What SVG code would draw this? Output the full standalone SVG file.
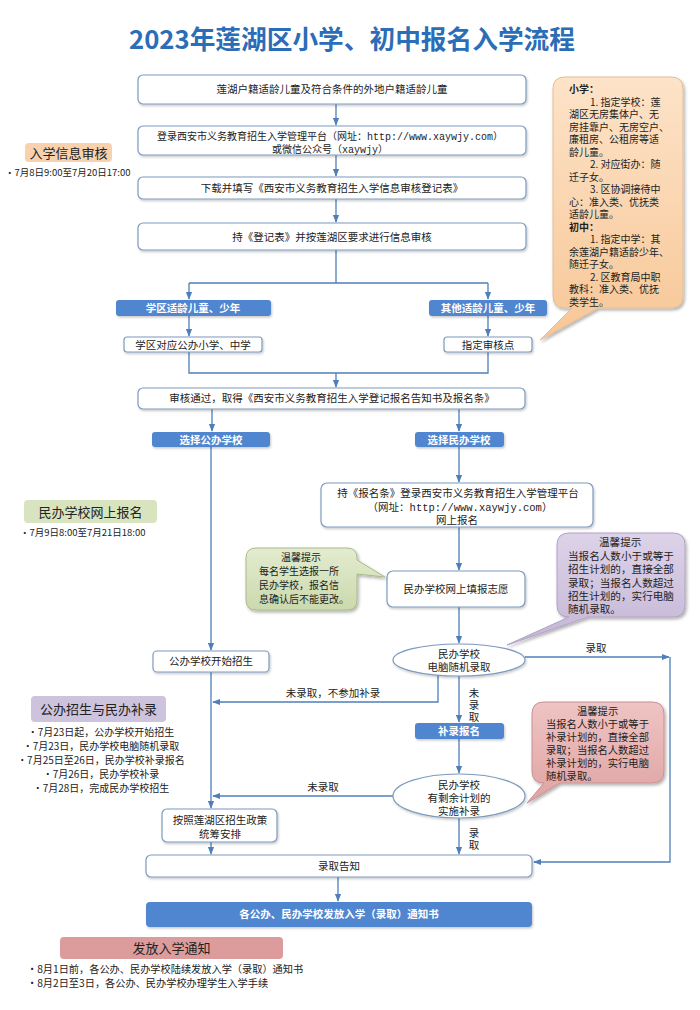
<svg xmlns="http://www.w3.org/2000/svg" width="700" height="1010" viewBox="0 0 700 1010">
<defs>
<style>
.t{font-family:"Noto Sans CJK SC","Liberation Sans",sans-serif;font-size:10.5px;fill:#222;text-anchor:middle}
.m{font-family:"Liberation Mono",monospace}
.l{text-anchor:start}
.tw{fill:#fff;font-weight:bold}
.v{writing-mode:vertical-rl;letter-spacing:1.5px}
.box{fill:#fff;stroke:#7d9bbf;stroke-width:1.2;filter:url(#sh)}
.bb{fill:#4f86cf;filter:url(#sh)}
.c{fill:none;stroke:#4f7fb8;stroke-width:1.3}
.a{marker-end:url(#ah)}
.lab{font-family:"Noto Sans CJK SC","Liberation Sans",sans-serif;font-size:13px;fill:#222;text-anchor:middle}
.d{font-family:"Noto Sans CJK SC","Liberation Sans",sans-serif;font-size:9.5px;fill:#222}
.note{stroke-width:1;filter:url(#sh2)}
</style>
<filter id="sh" x="-10%" y="-20%" width="120%" height="150%"><feDropShadow dx="1" dy="1.5" stdDeviation="0.8" flood-color="#000" flood-opacity="0.22"/></filter>
<filter id="sh2" x="-20%" y="-20%" width="140%" height="140%"><feDropShadow dx="1.5" dy="2" stdDeviation="1.5" flood-color="#000" flood-opacity="0.3"/></filter>
<marker id="ah" viewBox="0 0 10 10" refX="9" refY="5" markerWidth="8" markerHeight="8" markerUnits="userSpaceOnUse" orient="auto"><path d="M0,1 L10,5 L0,9 z" fill="#4f7fb8"/></marker>
<linearGradient id="go" x1="0" y1="0" x2="0" y2="1"><stop offset="0" stop-color="#fde3c8"/><stop offset="1" stop-color="#f7c797"/></linearGradient>
<linearGradient id="gg" x1="0" y1="0" x2="0" y2="1"><stop offset="0" stop-color="#e3ecd0"/><stop offset="1" stop-color="#cbd9ac"/></linearGradient>
<linearGradient id="gp" x1="0" y1="0" x2="0" y2="1"><stop offset="0" stop-color="#ddd3e8"/><stop offset="1" stop-color="#c4b6d6"/></linearGradient>
<linearGradient id="gk" x1="0" y1="0" x2="0" y2="1"><stop offset="0" stop-color="#efc4c4"/><stop offset="1" stop-color="#dfa3a3"/></linearGradient>
</defs>
<rect width="700" height="1010" fill="#fff"/>
<text x="352" y="49" style="font-family:'Noto Sans CJK SC',sans-serif;font-size:25.7px;font-weight:bold;fill:#2b6db7;text-anchor:middle">2023年莲湖区小学、初中报名入学流程</text>

<g id="connectors">
<path class="c a" d="M336,104 V125"/>
<path class="c a" d="M336,155 V176"/>
<path class="c a" d="M336,199 V222"/>
<path class="c" d="M336,250 V283 M189,283 H488"/>
<path class="c a" d="M189,283 V299"/>
<path class="c a" d="M488,283 V299"/>
<path class="c a" d="M189,316 V336"/>
<path class="c a" d="M488,316 V336"/>
<path class="c" d="M189,352 V373 H488 V352"/>
<path class="c a" d="M336,373 V387"/>
<path class="c a" d="M212,409 V431"/>
<path class="c a" d="M459,409 V431"/>
<path class="c a" d="M211,447 V650"/>
<path class="c a" d="M459,447 V482"/>
<path class="c a" d="M459,527 V570"/>
<path class="c a" d="M459,607 V643"/>
<path class="c a" d="M525,657 H669"/>
<path class="c a" d="M670,657 V862 H534"/>
<path class="c a" d="M438,675 V702 H213"/>
<path class="c a" d="M459,676 V722"/>
<path class="c a" d="M459,739 V773"/>
<path class="c a" d="M393,796 H213"/>
<path class="c a" d="M211,672 V808"/>
<path class="c a" d="M211,842 V854"/>
<path class="c a" d="M459,818 V854"/>
<path class="c a" d="M338,877 V901"/>
<text class="t" x="596" y="652">录取</text>
<text class="t" x="333" y="697">未录取，不参加补录</text>
<text class="t" x="323" y="791">未录取</text>
<text class="t v" x="474" y="706">未录取</text>
<text class="t v" x="474" y="840">录取</text>
</g>

<g id="n1"><rect class="box" x="138" y="75" width="388" height="29" rx="5"/><text class="t" x="332" y="93">莲湖户籍适龄儿童及符合条件的外地户籍适龄儿童</text></g>
<g id="n2"><rect class="box" x="138" y="126" width="388" height="29" rx="5"/><text class="t" style="font-size:10px"><tspan x="330" y="140">登录西安市义务教育招生入学管理平台（网址：<tspan class="m">http://www.xaywjy.com</tspan>）</tspan><tspan x="330" y="153">或微信公众号（<tspan class="m">xaywjy</tspan>）</tspan></text></g>
<g id="n3"><rect class="box" x="138" y="177" width="388" height="22" rx="5"/><text class="t" x="332" y="192">下载并填写《西安市义务教育招生入学信息审核登记表》</text></g>
<g id="n4"><rect class="box" x="138" y="223" width="388" height="27" rx="5"/><text class="t" x="332" y="241">持《登记表》并按莲湖区要求进行信息审核</text></g>
<g id="n5"><rect class="bb" x="116" y="300" width="155" height="16" rx="3"/><text class="t tw" x="193" y="312">学区适龄儿童、少年</text></g>
<g id="n6"><rect class="bb" x="429" y="300" width="118" height="16" rx="3"/><text class="t tw" x="488" y="312">其他适龄儿童、少年</text></g>
<g id="n7"><rect class="box" x="124" y="337" width="138" height="15" rx="3"/><text class="t" x="193" y="348.5">学区对应公办小学、中学</text></g>
<g id="n8"><rect class="box" x="444" y="337" width="88" height="15" rx="3"/><text class="t" x="488" y="348.5">指定审核点</text></g>
<g id="n9"><rect class="box" x="138" y="388" width="387" height="21" rx="5"/><text class="t" x="332" y="402">审核通过，取得《西安市义务教育招生入学登记报名告知书及报名条》</text></g>
<g id="n10"><rect class="bb" x="152" y="432" width="118" height="15" rx="3"/><text class="t tw" x="211" y="443.5">选择公办学校</text></g>
<g id="n11"><rect class="bb" x="415" y="432" width="89" height="15" rx="3"/><text class="t tw" x="459" y="443.5">选择民办学校</text></g>
<g id="n12"><rect class="box" x="321" y="483" width="272" height="44" rx="6"/><text class="t"><tspan x="458" y="497">持《报名条》登录西安市义务教育招生入学管理平台</tspan><tspan x="460" y="511">（网址：<tspan class="m">http://www.xaywjy.com</tspan>）</tspan><tspan x="457" y="524">网上报名</tspan></text></g>
<g id="n13"><rect class="box" x="387" y="571" width="138" height="36" rx="6"/><text class="t" x="456" y="593">民办学校网上填报志愿</text></g>
<g id="n14"><rect class="box" x="153" y="651" width="116" height="21" rx="4"/><text class="t" x="211" y="665">公办学校开始招生</text></g>
<g id="n15"><ellipse cx="459" cy="660" rx="66" ry="16" fill="#fff" stroke="#7d9bbf" stroke-width="1.2" filter="url(#sh)"/><text class="t"><tspan x="459" y="658">民办学校</tspan><tspan x="459" y="671">电脑随机录取</tspan></text></g>
<g id="n16"><rect class="bb" x="415" y="723" width="89" height="16" rx="3"/><text class="t tw" x="459" y="735">补录报名</text></g>
<g id="n17"><ellipse cx="459" cy="796" rx="66" ry="22" fill="#fff" stroke="#7d9bbf" stroke-width="1.2" filter="url(#sh)"/><text class="t"><tspan x="459" y="789">民办学校</tspan><tspan x="459" y="802">有剩余计划的</tspan><tspan x="459" y="815">实施补录</tspan></text></g>
<g id="n18"><rect class="box" x="162" y="809" width="115" height="33" rx="5"/><text class="t"><tspan x="220" y="824">按照莲湖区招生政策</tspan><tspan x="220" y="838">统筹安排</tspan></text></g>
<g id="n19"><rect class="box" x="146" y="855" width="386" height="22" rx="5"/><text class="t" x="339" y="870">录取告知</text></g>
<g id="n20"><rect class="bb" x="146" y="902" width="386" height="25" rx="4"/><text class="t tw" x="339" y="918">各公办、民办学校发放入学（录取）通知书</text></g>

<g id="note-orange">
<path class="note" fill="url(#go)" stroke="#e3bd95" d="M565,77 H671 Q683,77 683,89 V296 Q683,308 671,308 H598 L540,340 L572,308 H565 Q553,308 553,296 V89 Q553,77 565,77 Z"/>
<text class="t l" style="font-size:10px">
<tspan x="569" y="93" font-weight="bold">小学：</tspan>
<tspan x="590" y="105.5">1. 指定学校：莲</tspan>
<tspan x="569" y="118">湖区无房集体户、无</tspan>
<tspan x="569" y="130.5">房挂靠户、无房空户、</tspan>
<tspan x="569" y="143">廉租房、公租房等适</tspan>
<tspan x="569" y="155.5">龄儿童。</tspan>
<tspan x="590" y="168">2. 对应街办：随</tspan>
<tspan x="569" y="180.5">迁子女。</tspan>
<tspan x="590" y="193">3. 区协调接待中</tspan>
<tspan x="569" y="205.5">心：准入类、优抚类</tspan>
<tspan x="569" y="218">适龄儿童。</tspan>
<tspan x="569" y="230.5" font-weight="bold">初中：</tspan>
<tspan x="590" y="243">1. 指定中学：其</tspan>
<tspan x="569" y="255.5">余莲湖户籍适龄少年、</tspan>
<tspan x="569" y="268">随迁子女。</tspan>
<tspan x="590" y="280.5">2. 区教育局中职</tspan>
<tspan x="569" y="293">教科：准入类、优抚</tspan>
<tspan x="569" y="305.5">类学生。</tspan>
</text>
</g>

<g id="note-green">
<path class="note" fill="url(#gg)" stroke="#a9ba88" d="M256,548 H347 Q357,548 357,558 V560 L385,577 L357,574 V600 Q357,610 347,610 H256 Q246,610 246,600 V558 Q246,548 256,548 Z"/>
<text class="t l" style="font-size:10px"><tspan x="281" y="561">温馨提示</tspan><tspan x="259" y="575">每名学生选报一所</tspan><tspan x="259" y="589">民办学校，报名信</tspan><tspan x="259" y="603">息确认后不能更改。</tspan></text>
</g>

<g id="note-purple">
<path class="note" fill="url(#gp)" stroke="#b1a2c4" d="M569,533 H673 Q685,533 685,545 V605 Q685,617 673,617 H588 L507,645 L569,617 Q557,617 557,605 V545 Q557,533 569,533 Z"/>
<text class="t l" style="font-size:10.6px"><tspan x="599" y="546">温馨提示</tspan><tspan x="568" y="559.5">当报名人数小于或等于</tspan><tspan x="568" y="573">招生计划的，直接全部</tspan><tspan x="568" y="586.5">录取；当报名人数超过</tspan><tspan x="568" y="600">招生计划的，实行电脑</tspan><tspan x="568" y="613">随机录取。</tspan></text>
</g>

<g id="note-pink">
<path class="note" fill="url(#gk)" stroke="#c99090" d="M544,702 H652 Q664,702 664,714 V771 Q664,783 652,783 H560 L527,803 L544,783 Q532,783 532,771 V714 Q532,702 544,702 Z"/>
<text class="t l" style="font-size:10.3px"><tspan x="577" y="715">温馨提示</tspan><tspan x="546" y="728">当报名人数小于或等于</tspan><tspan x="546" y="741">补录计划的，直接全部</tspan><tspan x="546" y="754">录取；当报名人数超过</tspan><tspan x="546" y="767">补录计划的，实行电脑</tspan><tspan x="546" y="780">随机录取。</tspan></text>
</g>

<g id="stage1"><rect x="25" y="143" width="87" height="19" rx="4" fill="#f8d2ae"/><text class="lab" x="68.5" y="157.5">入学信息审核</text><text class="d" x="5" y="176">•7月8日9:00至7月20日17:00</text></g>
<g id="stage2"><rect x="24" y="500" width="133" height="23" rx="4" fill="#d8e4bf"/><text class="lab" x="90.5" y="516.5">民办学校网上报名</text><text class="d" x="20" y="536">•7月9日8:00至7月21日18:00</text></g>
<g id="stage3"><rect x="31" y="696" width="135" height="26" rx="4" fill="#cdc3dc"/><text class="lab" x="98.5" y="714">公办招生与民办补录</text>
<text class="d" text-anchor="middle" style="font-size:10px"><tspan x="101" y="736">•7月23日起，公办学校开始招生</tspan><tspan x="101" y="750">•7月23日，民办学校电脑随机录取</tspan><tspan x="101" y="764">•7月25日至26日，民办学校补录报名</tspan><tspan x="101" y="778">•7月26日，民办学校补录</tspan><tspan x="101" y="792">•7月28日，完成民办学校招生</tspan></text></g>
<g id="stage4"><rect x="60" y="937" width="223" height="22" rx="4" fill="#dc9c9b"/><text class="lab" x="171.5" y="953">发放入学通知</text>
<text class="d" style="font-size:10.2px"><tspan x="27" y="973">•8月1日前，各公办、民办学校陆续发放入学（录取）通知书</tspan><tspan x="27" y="987">•8月2日至3日，各公办、民办学校办理学生入学手续</tspan></text></g>
</svg>
